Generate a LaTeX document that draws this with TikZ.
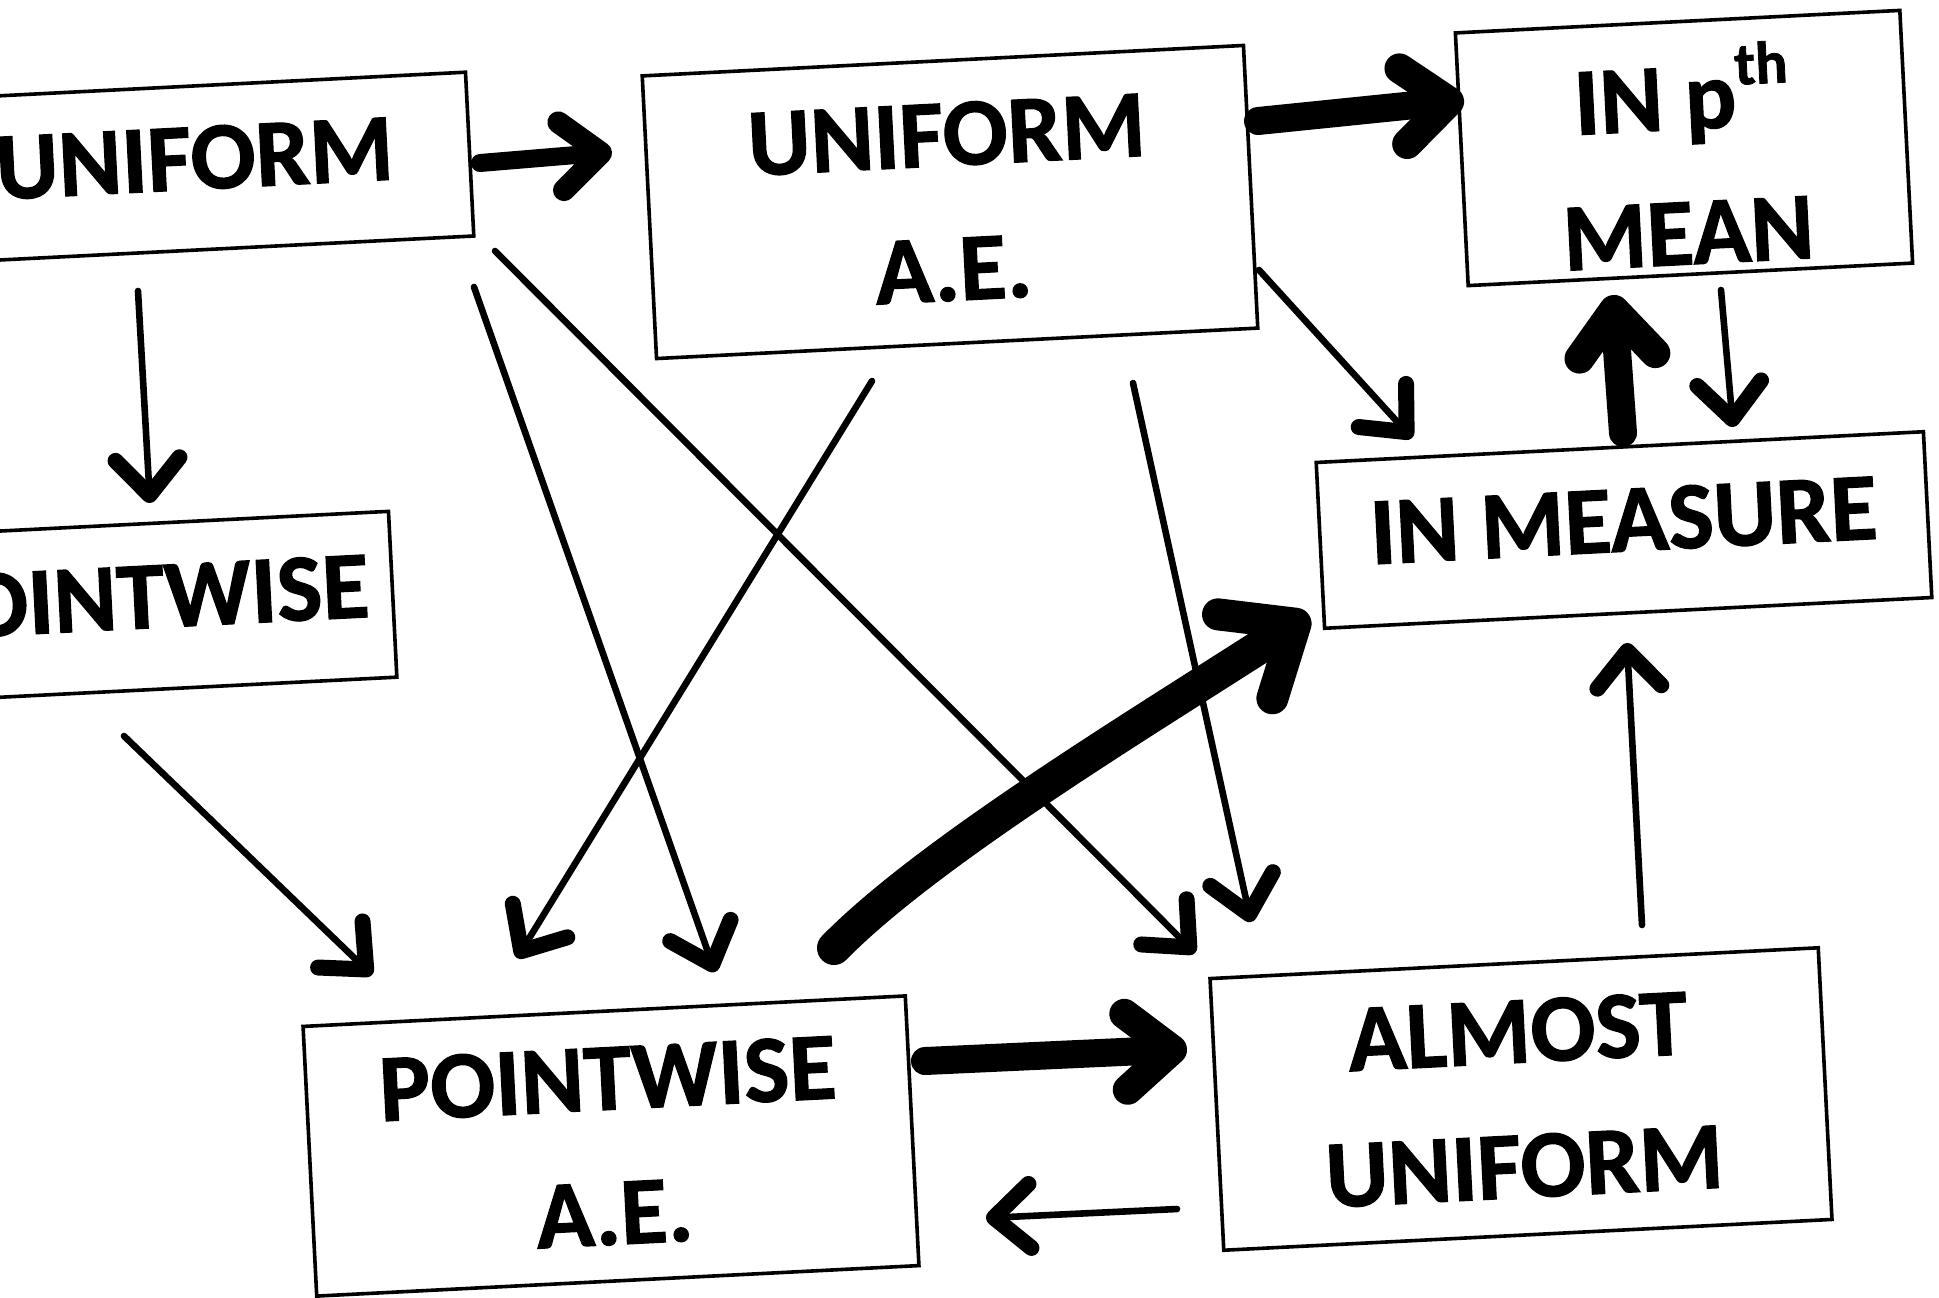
\documentclass[tikz,border=0pt]{standalone}
\usepackage{fontspec}
\setmainfont{Carlito}[BoldFeatures={FakeBold=1.3}]
\usetikzlibrary{arrows.meta,calc}
\tikzset{
  box/.style={draw, line width=1.8pt, rotate=2.9, inner sep=0pt,
    font=\fontsize{48}{67.5}\selectfont\bfseries, align=center},
  onebox/.style={box, text depth=10pt},
  thinarr/.style={line width=3.3pt, line cap=round,
    -{Straight Barb[length=18pt 0, width=32pt 0, line width'=8pt, round]}},
  medarr/.style={line width=9pt, line cap=round,
    -{Straight Barb[length=20pt 0, width=34pt 0, line width'=11pt, round]}},
  thickarr/.style={line width=14pt, line cap=round,
    -{Straight Barb[length=23pt 0, width=38pt 0, line width'=15pt, round]}},
  curvearr/.style={line width=17pt, line cap=round,
    -{Straight Barb[length=30pt 0, width=50pt 0, line width'=16pt, round]}},
}
\begin{document}
\begin{tikzpicture}[x=0.5pt, y=-0.5pt]
\path[fill=white, use as bounding box] (0,0) rectangle (1939,1297);

\node[onebox, minimum width=275pt, minimum height=82pt] (uni) at (195,168) {UNIFORM};
\node[onebox, minimum width=252pt, minimum height=83pt] (pw) at (141,607) {POINTWISE};
\node[box, minimum width=301pt, minimum height=141.5pt] (uae) at (950,202) {UNIFORM\\A.E.};
\node[box, minimum width=222.5pt, minimum height=126.5pt] (inp) at (1684,148)
  {\rule{0pt}{49pt}IN p\raisebox{21pt}[0pt][0pt]{\fontsize{30}{30}\selectfont th}\\MEAN};
\node[onebox, minimum width=304pt, minimum height=83pt] (im) at (1624,530) {IN MEASURE};
\node[box, minimum width=301.5pt, minimum height=135pt] (pae) at (611,1146) {POINTWISE\\A.E.};
\node[box, minimum width=304.5pt, minimum height=136pt] (au) at (1521,1099) {ALMOST\\UNIFORM};

\draw[medarr] ($(uni)+(285,-5)$) -- ($(uae)+(-338,-50)$);
\draw[thickarr] ($(uae)+(308,-81)$) -- ($(inp)+(-220,-48)$);
\draw[thinarr] ($(uni)+(-57,123)$) -- ($(pw)+(9,-104)$);
\draw[thinarr] ($(uni)+(279,119)$) -- ($(pae)+(104,-174)$);
\draw[thinarr] ($(uni)+(300,83)$) -- ($(au)+(-326,-146)$);
\draw[thinarr] ($(uae)+(-78,179)$) -- ($(pae)+(-94,-188)$);
\draw[thinarr] ($(uae)+(183,181)$) -- ($(au)+(-270,-177)$);
\draw[thinarr] ($(uae)+(309,68)$) -- ($(im)+(-212,-92)$);
\draw[thickarr] ($(im)+(-1,-97)$) -- ($(inp)+(-71,147)$);
\draw[thinarr] ($(inp)+(37,142)$) -- ($(im)+(109,-103)$);
\draw[thinarr] ($(pw)+(-17,129)$) -- ($(pae)+(-239,-171)$);
\draw[curvearr] ($(pae)+(223,-198)$) .. controls +(96,-98) and +(-159,103) .. ($(im)+(-315,85)$);
\draw[thickarr] ($(pae)+(314,-85)$) -- ($(au)+(-334,-50)$);
\draw[thinarr] ($(au)+(-344,110)$) -- ($(pae)+(375,72)$);
\draw[thinarr] ($(au)+(121,-174)$) -- ($(im)+(3,113)$);
\end{tikzpicture}
\end{document}
